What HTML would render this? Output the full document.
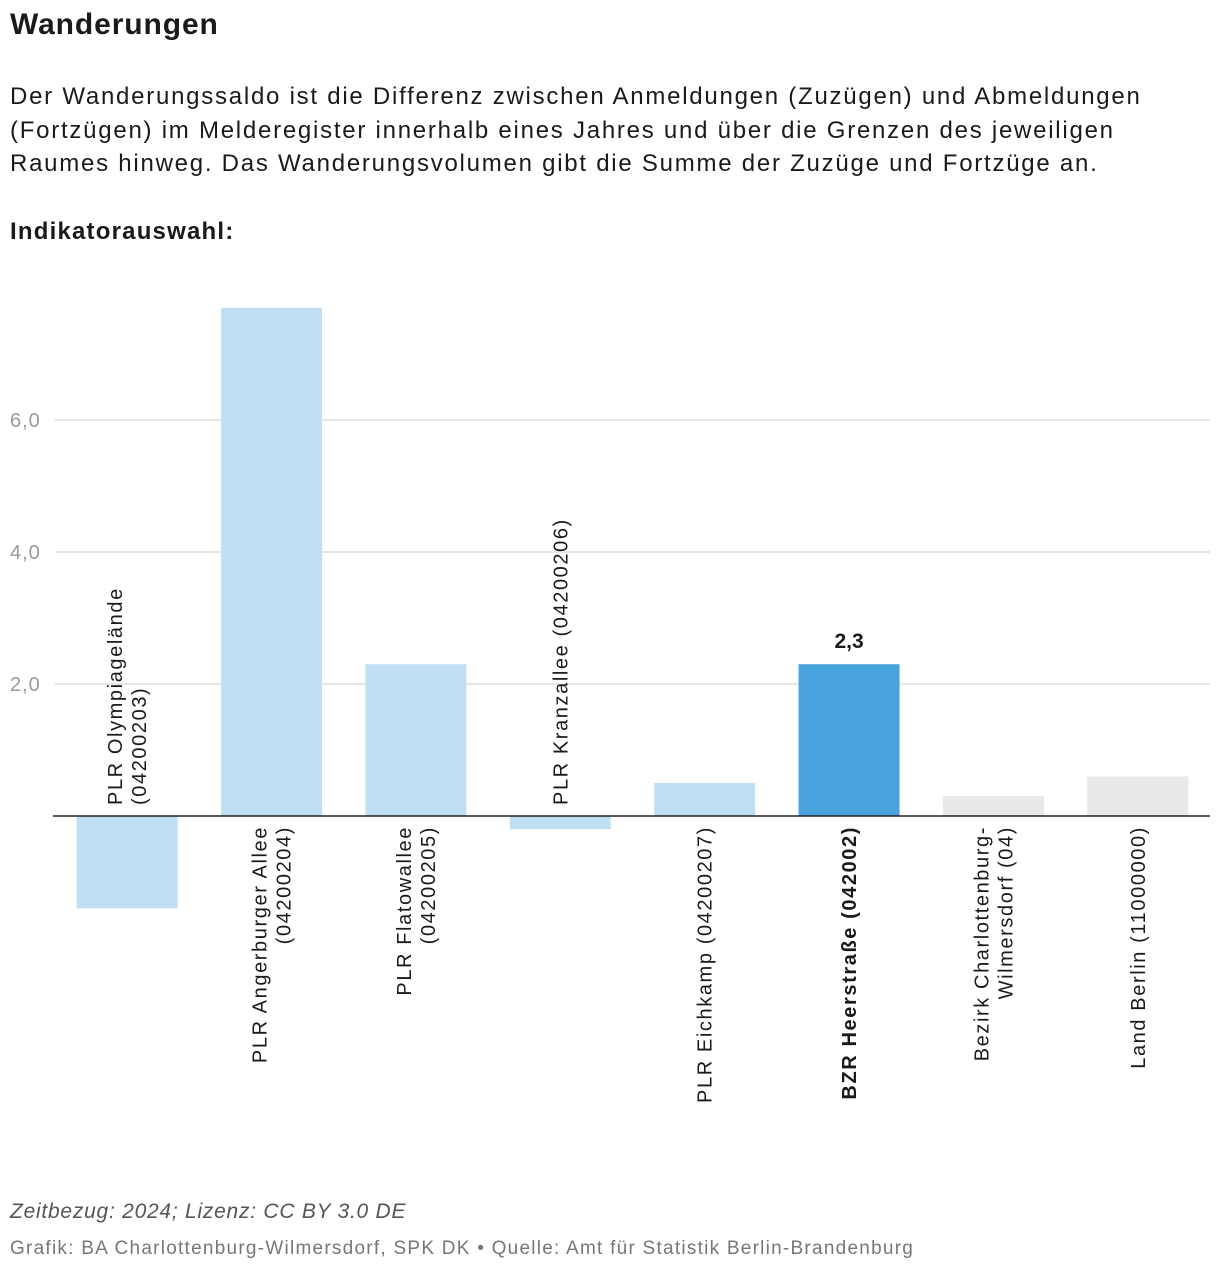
<!DOCTYPE html>
<html><head><meta charset="utf-8">
<style>
body{margin:0;width:1220px;height:1274px;background:#fff;font-family:"Liberation Sans",Arial,sans-serif;color:#1a1a1a;position:relative;overflow:hidden}
.t{position:absolute;left:10px;margin:0}
#title{top:8px;font-size:30px;font-weight:bold;letter-spacing:0.9px}
#desc{top:80px;font-size:24px;line-height:33.5px;width:1165px;letter-spacing:1.75px}
#ind{top:218px;font-size:24px;font-weight:bold;letter-spacing:1.2px}
#f1{top:1200px;font-size:21px;font-style:italic;color:#555;letter-spacing:0.75px}
#f2{top:1238px;font-size:19px;color:#777;letter-spacing:1.25px}
svg{position:absolute;left:0;top:0}
</style></head><body>
<h1 class="t" id="title">Wanderungen</h1>
<p class="t" id="desc">Der Wanderungssaldo ist die Differenz zwischen Anmeldungen (Zuzügen) und Abmeldungen (Fortzügen) im Melderegister innerhalb eines Jahres und über die Grenzen des jeweiligen Raumes hinweg. Das Wanderungsvolumen gibt die Summe der Zuzüge und Fortzüge an.</p>
<div class="t" id="ind">Indikatorauswahl:</div>
<svg id="chart" width="1220" height="1274"></svg>
<div class="t" id="f1">Zeitbezug: 2024; Lizenz: CC BY 3.0 DE</div>
<div class="t" id="f2">Grafik: BA Charlottenburg-Wilmersdorf, SPK DK • Quelle: Amt für Statistik Berlin-Brandenburg</div>
<script>
const categories=[["PLR Olympiagelände","(04200203)"],["PLR Angerburger Allee","(04200204)"],["PLR Flatowallee","(04200205)"],["PLR Kranzallee (04200206)"],["PLR Eichkamp (04200207)"],["BZR Heerstraße (042002)"],["Bezirk Charlottenburg-","Wilmersdorf (04)"],["Land Berlin (11000000)"]];
const values=[-1.4,7.7,2.3,-0.2,0.5,2.3,0.3,0.6];
const kinds=["plr","plr","plr","plr","plr","bzr","ref","ref"];
const ticks=[2,4,6];
const tickLabels=["2,0","4,0","6,0"];
const NS="http://www.w3.org/2000/svg";
const svg=document.getElementById('chart');
const x0=55,x1=1210,y0=816,pxPerUnit=66;
const step=(x1-x0)/categories.length,bw=101;
const y=v=>y0-v*pxPerUnit;
const xc=i=>x0+step*(i+0.5);
function mk(t,a){const e=document.createElementNS(NS,t);for(const k in a)e.setAttribute(k,a[k]);svg.appendChild(e);return e;}
ticks.forEach((t,i)=>{
 const g=mk('line',{x1:x0,x2:x1,y1:y(t),y2:y(t),stroke:'#dddddd','stroke-width':1.5});
 
 
 const l=mk('text',{x:10,y:y(t)+7,'font-size':20,fill:'#999','letter-spacing':1});
 l.textContent=tickLabels[i];
 
 
});
const colors={plr:'#c1dff3',bzr:'#49a3dc',ref:'#e8e8e8'};
values.forEach((v,i)=>{
 const top=Math.min(y(v),y0),h=Math.abs(y(v)-y0);
 const r=mk('rect',{x:xc(i)-bw/2,y:top,width:bw,height:h,fill:colors[kinds[i]]});
 
 
 const lines=categories[i];
 const neg=v<0;
 const ay=neg?y0-11:y0+10;
 const n=lines.length;
 const t=mk('text',{'font-size':20,fill:'#1a1a1a','letter-spacing':1.6,'text-anchor':neg?'start':'end','font-weight':kinds[i]==='bzr'?'bold':'normal',transform:`translate(${xc(i)-(n-1)*12+7},${ay}) rotate(-90)`});
 lines.forEach((s,j)=>{const ts=document.createElementNS(NS,'tspan');ts.setAttribute('x',0);ts.setAttribute('dy',j?24:0);ts.textContent=s;t.appendChild(ts);});
 
 
 if(kinds[i]==='bzr'){
  const vl=mk('text',{x:xc(i),y:y(v)-16,'font-size':21,'font-weight':'bold','text-anchor':'middle',fill:'#1a1a1a'});
  vl.textContent=String(v).replace('.',',');
  
  
 }
});
const ax=mk('line',{x1:x0-2,x2:x1,y1:y0,y2:y0,stroke:'#222','stroke-width':1.5});


</script>
</body></html>
